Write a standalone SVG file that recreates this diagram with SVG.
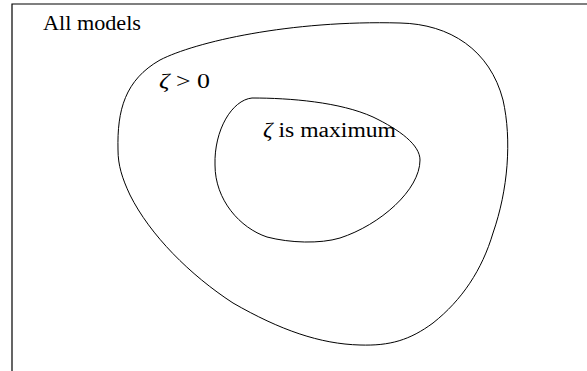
<svg xmlns="http://www.w3.org/2000/svg" width="587" height="371" viewBox="0 0 587 371">
<style>
.frame{fill:none;stroke:#000;stroke-width:1.2}
.region{fill:none;stroke:#000;stroke-width:1}
.it{font-style:italic}
</style>
<rect width="587" height="371" fill="#fff"/>
<g id="frame">
<path class="frame" d="M12,371 V4 H587"/>
<text font-family="Liberation Serif, DejaVu Serif, serif" font-size="20" x="43" y="29.5" textLength="98" lengthAdjust="spacingAndGlyphs">All models</text>
</g>
<g id="outer">
<path class="region" d="M118,150 C117,110 125,80 160,60 C195,42 290,20 400,23 C450,24 490,50 503,100 C512,140 508,190 493,233 C482,270 462,300 433,323 C410,340 390,346 360,345 C320,344 280,330 233,303 C190,275 150,235 130,195 C122,178 118,165 118,150 Z"/>
<text font-family="Liberation Serif, DejaVu Serif, serif" font-size="20" x="159" y="88" textLength="51" lengthAdjust="spacingAndGlyphs"><tspan class="it">ζ</tspan> &gt; 0</text>
</g>
<g id="inner">
<path class="region" d="M252,98 C290,98 340,102 373,117 C400,130 420,145 420,160 C420,190 380,225 340,238 C320,244 290,243 267,237 C240,228 215,200 215,165 C214,130 232,100 252,98 Z"/>
<text font-family="Liberation Serif, DejaVu Serif, serif" font-size="20" x="263" y="137" textLength="133" lengthAdjust="spacingAndGlyphs"><tspan class="it">ζ</tspan> is maximum</text>
</g>
</svg>
